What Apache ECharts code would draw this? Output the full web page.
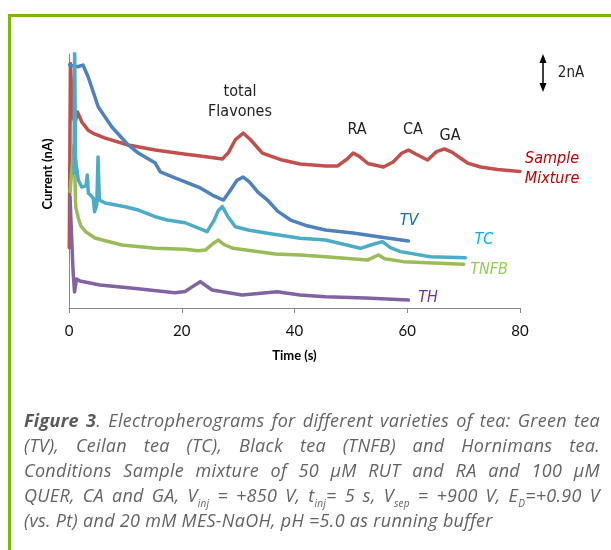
<!DOCTYPE html>
<html>
<head>
<meta charset="utf-8">
<script src="https://cdn.jsdelivr.net/npm/echarts@6/dist/echarts.min.js"></script>
<style>
    html, body {
        margin: 0;
        padding: 0;
        width: 611px;
        height: 550px;
        overflow: hidden;
        background: #fff;
    }
    .frame {
        position: absolute;
        left: 8px;
        top: 14px;
        width: 700px;
        height: 600px;
        border-left: 3px solid #7cb800;
        border-top: 3px solid #7cb800;
    }
    #chartContainer {
        position: absolute;
        left: 0;
        top: 0;
        width: 611px;
        height: 550px;
    }
    .caption {
        position: absolute;
        left: 24px;
        top: 408px;
        width: 576px;
        font-family: 'Open Sans', Lato, sans-serif;
        font-style: italic;
        font-size: 18px;
        letter-spacing: 0.3px;
        line-height: 25px;
        color: #636363;
    }
    .caption div {
        text-align: justify;
        text-align-last: justify;
        white-space: normal;
    }
    .caption div.last {
        text-align-last: left;
    }
    .caption b {
        color: #5a5a5a;
    }
    .caption sub {
        font-size: 10px;
        line-height: 0;
    }
</style>
</head>
<body>
<div class="frame"></div>
<div id="chartContainer"></div>
<div class="caption">
    <div><b>Figure 3</b>. Electropherograms for different varieties of tea: Green tea</div>
    <div>(TV), Ceilan tea (TC), Black tea (TNFB) and Hornimans tea.</div>
    <div>Conditions Sample mixture of 50 µM RUT and RA and 100 µM</div>
    <div>QUER, CA and GA, V<sub>inj</sub> = +850 V, t<sub>inj</sub>= 5 s, V<sub>sep</sub> = +900 V, E<sub>D</sub>=+0.90 V</div>
    <div class="last">(vs. Pt) and 20 mM MES-NaOH, pH =5.0 as running buffer</div>
</div>
<script>
// time (s), current (nA)
const sampleMixture = [
    [0.05, 3.8], [0.25, 15.4], [0.7, 12.0], [1.1, 11.7], [1.5, 12.35], [2.3, 11.7], [3.4, 11.2],
    [4.3, 11.0], [6.4, 10.7], [10.5, 10.27], [15.3, 9.95], [20.4, 9.7], [24, 9.55], [27.2, 9.39],
    [28.3, 9.8], [29.5, 10.6], [30.9, 11.02], [32.2, 10.6], [34.3, 9.76], [37.8, 9.32], [41, 9.07],
    [45.5, 8.94], [47.6, 8.94], [49.4, 9.4], [50.4, 9.76], [51.5, 9.55], [53, 9.1], [55.8, 8.88],
    [57.5, 9.2], [59, 9.75], [60.2, 9.95], [61.5, 9.7], [63.6, 9.32], [65.2, 9.85], [66.6, 10.02],
    [68, 9.8], [69.4, 9.45], [70.7, 9.13], [73, 8.88], [76, 8.72], [80, 8.6]
];
const greenTeaTV = [
    [0.1, 15.3], [1.5, 15.2], [2.5, 15.3], [3.4, 14.55], [5.2, 12.66], [7.6, 11.4], [10.5, 10.27],
    [12.3, 9.76], [15.3, 9.13], [16.2, 8.57], [18.8, 8.19], [23.3, 7.56], [25.5, 7.1], [27.4, 6.8],
    [28.6, 7.4], [29.8, 8.05], [30.9, 8.25], [32, 7.95], [33.5, 7.3], [35.2, 6.8], [37, 6.1],
    [39.3, 5.54], [42, 5.2], [45.5, 4.91], [50.4, 4.72], [55.2, 4.47], [60.2, 4.22]
];
const ceilanTeaTC = [
    [0.9, 8.5], [1.0, 16.5], [1.15, 9.5], [1.3, 9.0], [1.65, 8.06], [2.26, 7.62], [3.0, 7.69],
    [3.25, 8.38], [3.43, 7.24], [4.3, 6.93], [4.53, 6.07], [4.92, 6.49], [5.15, 9.51], [5.38, 6.8],
    [6.4, 6.61], [9.95, 6.38], [12.3, 6.17], [15.3, 5.75], [17.4, 5.54], [20.6, 5.37], [24.5, 4.81],
    [25.7, 5.5], [26.5, 6.15], [27.2, 6.38], [28.2, 5.75], [29.5, 5.12], [32, 4.9], [35.2, 4.71],
    [41, 4.39], [45.5, 4.28], [51.7, 3.76], [53.8, 4.0], [55.6, 4.18], [57, 3.8], [58.8, 3.55],
    [64.1, 3.23], [70.3, 3.17]
];
const blackTeaTNFB = [
    [0.18, 7.33], [0.89, 10.27], [1.19, 6.36], [1.65, 5.67], [2.1, 5.17], [3.0, 4.79], [4.6, 4.41],
    [7.3, 4.16], [9.4, 3.97], [15.3, 3.76], [20.6, 3.7], [22.9, 3.61], [24.2, 3.65], [25.5, 4.05],
    [26.5, 4.28], [27.5, 4.0], [29.1, 3.76], [36.6, 3.4], [41, 3.34], [45.5, 3.23], [52.9, 3.02],
    [54.9, 3.34], [56, 3.1], [59.3, 2.92], [70, 2.75]
];
const hornimansTH = [
    [0.18, 7.01], [0.71, 2.39], [0.98, 1.01], [1.33, 1.83], [1.95, 1.7], [5.5, 1.45], [11.4, 1.24],
    [18.8, 0.96], [20.6, 1.04], [21.7, 1.3], [23.3, 1.66], [24.3, 1.4], [25.4, 1.13], [30.7, 0.82],
    [36.9, 1.03], [41, 0.82], [45.5, 0.71], [52.6, 0.63], [60.2, 0.5]
];
const xTicks = [0, 20, 40, 60, 80];

const labelFont = "'DejaVu Sans Condensed', 'DejaVu Sans', sans-serif";

function trace(name, data, color) {
    return {
        name: name,
        type: 'line',
        data: data,
        showSymbol: false,
        smooth: false,
        clip: true,
        lineStyle: { color: color, width: 3.5, join: 'round', cap: 'round' },
        itemStyle: { color: color }
    };
}

function tag(text, x, y, color, italic, size) {
    return {
        type: 'text',
        x: x,
        y: y,
        style: {
            text: text,
            fill: color,
            font: (italic ? 'italic ' : '') + (size || 16) + 'px ' + labelFont,
            align: 'center',
            verticalAlign: 'middle'
        }
    };
}

const chart = echarts.init(document.getElementById('chartContainer'));
chart.setOption({
    animation: false,
    grid: { left: 69, right: 91, top: 54, bottom: 242 },
    xAxis: {
        type: 'value',
        min: xTicks[0],
        max: xTicks[xTicks.length - 1],
        interval: 20,
        name: 'Time (s)',
        nameLocation: 'middle',
        nameGap: 41,
        nameTextStyle: { fontFamily: 'Lato', fontWeight: 'bold', fontSize: 13, color: '#000' },
        splitLine: { show: false },
        axisLine: { lineStyle: { color: '#888', width: 1 } },
        axisTick: { length: 5, lineStyle: { color: '#888' } },
        axisLabel: { margin: 16, fontFamily: 'Lato', fontSize: 15, color: '#111' }
    },
    yAxis: {
        type: 'value',
        min: 0,
        max: 16,
        name: 'Current (nA)',
        nameLocation: 'middle',
        nameGap: 15,
        nameTextStyle: { fontFamily: 'Lato', fontWeight: 'bold', fontSize: 13, color: '#000', padding: [0, 0, 0, 14] },
        splitLine: { show: false },
        axisLine: { show: true, lineStyle: { color: '#888', width: 1 } },
        axisTick: { show: false },
        axisLabel: { show: false }
    },
    series: [
        trace('Sample Mixture', sampleMixture, '#c0504d'),
        trace('TV', greenTeaTV, '#4f81bd'),
        trace('TH', hornimansTH, '#8064a2'),
        trace('TNFB', blackTeaTNFB, '#9bbb59'),
        trace('TC', ceilanTeaTC, '#4bacc6')
    ],
    graphic: [
        tag('total', 240, 92, '#222'),
        tag('Flavones', 240, 112, '#222'),
        tag('RA', 357, 130, '#222'),
        tag('CA', 413, 130, '#222'),
        tag('GA', 450, 136, '#222'),
        tag('Sample', 552, 159, '#c00000', true),
        tag('Mixture', 552, 179, '#c00000', true),
        tag('TV', 409, 221, '#0070c0', true),
        tag('TC', 484, 240, '#00b0f0', true),
        tag('TNFB', 489, 270, '#92d050', true),
        tag('TH', 428, 298, '#7030a0', true),
        // 2 nA scale bar
        { type: 'line', shape: { x1: 543, y1: 60, x2: 543, y2: 86 }, style: { stroke: '#000', lineWidth: 1.5 } },
        { type: 'polygon', shape: { points: [[543, 54], [539.5, 63], [546.5, 63]] }, style: { fill: '#000' } },
        { type: 'polygon', shape: { points: [[543, 92], [539.5, 83], [546.5, 83]] }, style: { fill: '#000' } },
        tag('2nA', 571, 73, '#222', false, 15)
    ]
});
</script>
</body>
</html>
